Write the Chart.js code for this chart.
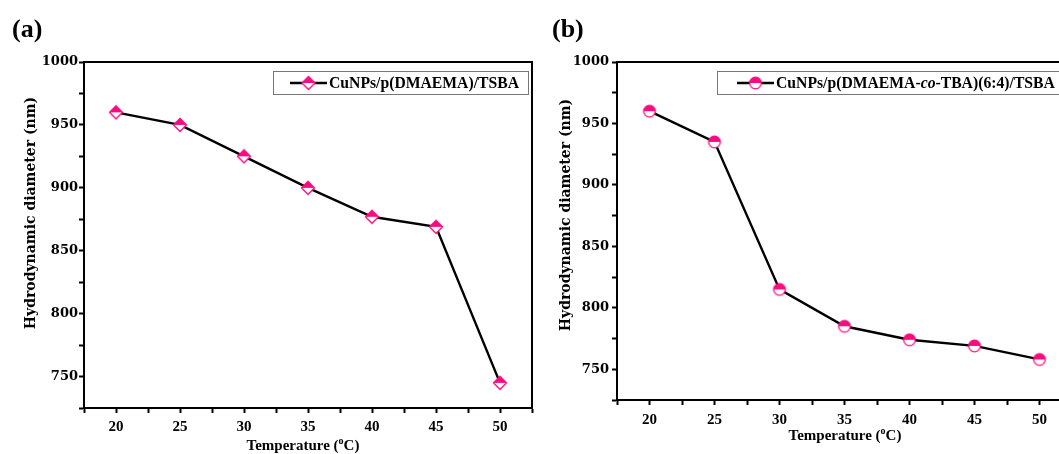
<!DOCTYPE html>
<html>
<head>
<meta charset="utf-8">
<script src="https://cdn.jsdelivr.net/npm/chart.js@4.4.0/dist/chart.umd.min.js"></script>
<style>
html, body { margin: 0; padding: 0; background: #fff; overflow: hidden; width: 1059px; height: 454px; }
canvas { position: absolute; top: 0; }
#chartA { left: 0; }
#chartB { left: 545px; }
</style>
</head>
<body>
<canvas id="chartA" width="545" height="470"></canvas>
<canvas id="chartB" width="545" height="470"></canvas>
<script>
// data
const temps = [20, 25, 30, 35, 40, 45, 50];
const sizeA = [960, 950, 925, 900, 877, 869, 745];
const sizeB = [960, 935, 815, 785, 774, 769, 758];

const xRange = [17.5, 52.5];
const xStep = 2.5;
const yRange = [725, 1000];
const yStep = 25;

const labelA = ['CuNPs/p(DMAEMA)/TSBA'];
const labelB = ['CuNPs/p(DMAEMA-', 'co', '-TBA)(6:4)/TSBA'];
const xTitle = ['Temperature (', 'o', 'C)'];
const yTitle = 'Hydrodynamic diameter (nm)';

const pink = '#fb0a80';
const serif = '"Liberation Serif", "Times New Roman", serif';
const dejavu = '"DejaVu Serif", serif';

// half filled markers
function marker(shape) {
  const c = document.createElement('canvas');
  c.width = 16; c.height = 16;
  const g = c.getContext('2d');
  const m = 8, r = 6.5;
  function path() {
    g.beginPath();
    if (shape === 'diamond') {
      g.moveTo(m, m - r); g.lineTo(m + r, m); g.lineTo(m, m + r); g.lineTo(m - r, m); g.closePath();
    } else {
      g.arc(m, m, r - 0.7, 0, Math.PI * 2);
    }
  }
  path(); g.fillStyle = '#fff'; g.fill();
  g.save();
  g.beginPath(); g.rect(0, 0, 16, m); g.clip();
  path(); g.fillStyle = pink; g.fill();
  g.restore();
  path(); g.strokeStyle = pink; g.lineWidth = 1.3; g.stroke();
  return c;
}
const diamond = marker('diamond');
const halfCircle = marker('circle');

const framePlugin = {
  id: 'frame',
  afterDraw(chart, args, opts) {
    const ctx = chart.ctx, a = chart.chartArea;
    ctx.save();
    ctx.strokeStyle = '#000';
    ctx.lineWidth = 2;
    ctx.beginPath();
    ctx.moveTo(a.left, a.top);
    ctx.lineTo(a.right, a.top);
    ctx.lineTo(a.right, a.bottom);
    ctx.stroke();

    // legend box
    const bx = opts.boxX, by = 71, bh = 23;
    let tw = 0;
    opts.label.forEach((s, i) => {
      ctx.font = (i === 1 ? 'italic bold 15.7px ' : 'bold 15.7px ') + serif;
      tw += ctx.measureText(s).width;
    });
    const lx = bx + opts.lineIn, lw = 37;
    const bw = lx + lw + 2 + tw + 9 - bx;
    ctx.strokeStyle = '#777';
    ctx.lineWidth = 1;
    ctx.strokeRect(bx + 0.5, by + 0.5, bw, bh);
    ctx.strokeStyle = '#000';
    ctx.lineWidth = 2.4;
    ctx.beginPath();
    ctx.moveTo(lx, by + bh / 2 + 0.5);
    ctx.lineTo(lx + lw, by + bh / 2 + 0.5);
    ctx.stroke();
    const img = opts.marker;
    ctx.drawImage(img, lx + lw / 2 - img.width / 2, by + bh / 2 + 0.5 - img.height / 2);
    ctx.fillStyle = '#000';
    ctx.textBaseline = 'middle';
    let tx = lx + lw + 2;
    opts.label.forEach((s, i) => {
      ctx.font = (i === 1 ? 'italic bold 15.7px ' : 'bold 15.7px ') + serif;
      ctx.fillText(s, tx, by + bh / 2 + 1);
      tx += ctx.measureText(s).width;
    });

    // axis titles
    ctx.font = 'bold 14px ' + dejavu;
    ctx.textAlign = 'center';
    ctx.save();
    ctx.translate(opts.yTitleX, opts.yTitleY);
    ctx.rotate(-Math.PI / 2);
    ctx.fillText(yTitle, 0, 0);
    ctx.restore();

    const fonts = ['bold 15px ' + serif, 'bold 10px ' + serif, 'bold 15px ' + serif];
    const lifts = [0, -5, 0];
    let xw = 0;
    xTitle.forEach((s, i) => { ctx.font = fonts[i]; xw += ctx.measureText(s).width; });
    ctx.textAlign = 'left';
    let xx = opts.xTitleX - xw / 2;
    xTitle.forEach((s, i) => {
      ctx.font = fonts[i];
      ctx.fillText(s, xx, opts.xTitleY + lifts[i]);
      xx += ctx.measureText(s).width;
    });

    // panel letter
    ctx.font = 'bold 26px ' + serif;
    ctx.fillText(opts.panel, opts.panelX, 30);
    ctx.restore();
  }
};

function makeChart(id, values, pointImg, p) {
  const ctx = document.getElementById(id).getContext('2d');
  return new Chart(ctx, {
    type: 'line',
    data: {
      datasets: [{
        data: temps.map((t, i) => ({ x: t, y: values[i] })),
        borderColor: '#000',
        borderWidth: 2.4,
        pointStyle: pointImg,
        pointRadius: 6,
        tension: 0,
        fill: false
      }]
    },
    options: {
      responsive: false,
      animation: false,
      layout: { padding: { top: 62, right: p.right, left: 0, bottom: 0 } },
      plugins: {
        legend: { display: false },
        tooltip: { enabled: false },
        frame: p
      },
      scales: {
        x: {
          type: 'linear',
          min: xRange[0], max: xRange[1],
          afterFit: s => { s.height = 470 - p.bottom; },
          afterBuildTicks: s => {
            s.ticks = [];
            for (let v = xRange[0]; v <= xRange[1] + 1e-9; v += xStep) s.ticks.push({ value: v });
          },
          ticks: {
            autoSkip: false, maxRotation: 0,
            color: '#000',
            padding: p.xPad,
            font: { family: serif, size: 15, weight: 'bold' },
            callback: v => (v % 5 === 0 ? v : '')
          },
          grid: { drawOnChartArea: false, drawTicks: true, tickLength: 5, tickWidth: 2, tickColor: '#000' },
          border: { display: true, color: '#000', width: 2 },
          title: { display: false }
        },
        y: {
          min: yRange[0], max: yRange[1],
          afterFit: s => { s.width = p.yWidth; },
          afterBuildTicks: s => {
            s.ticks = [];
            for (let v = yRange[0]; v <= yRange[1]; v += yStep) s.ticks.push({ value: v });
          },
          ticks: {
            autoSkip: false,
            color: '#000',
            padding: p.yPad,
            font: { family: dejavu, size: 13, weight: 'bold' },
            callback: v => (v % 50 === 0 ? v : '')
          },
          grid: { drawOnChartArea: false, drawTicks: true, tickLength: 5, tickWidth: 2, tickColor: '#000' },
          border: { display: true, color: '#000', width: 2 },
          title: { display: false }
        }
      }
    },
    plugins: [framePlugin]
  });
}

makeChart('chartA', sizeA, diamond, {
  right: 13, bottom: 408, yWidth: 84, xPad: 5, yPad: 1,
  label: labelA, marker: diamond, boxX: 273, lineIn: 17, panel: '(a)', panelX: 12,
  yTitleX: 31, yTitleY: 213, xTitleX: 303, xTitleY: 446
});
makeChart('chartB', sizeB, halfCircle, {
  right: 18, bottom: 400, yWidth: 72, xPad: 6, yPad: 3,
  label: labelB, marker: halfCircle, boxX: 172, lineIn: 20, panel: '(b)', panelX: 7,
  yTitleX: 21, yTitleY: 215, xTitleX: 300, xTitleY: 436
});
</script>
</body>
</html>
